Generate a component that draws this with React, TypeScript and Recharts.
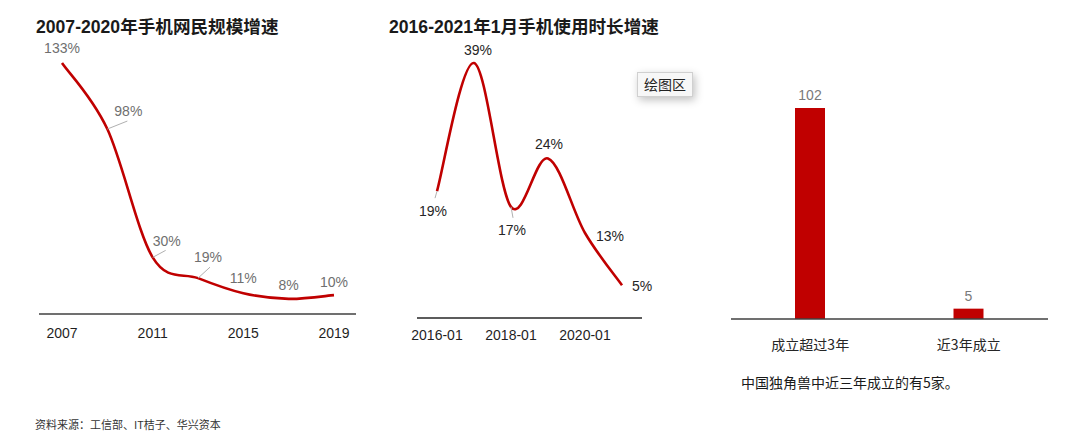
import React from 'react';
import { LineChart, Line, XAxis, YAxis, BarChart, Bar, LabelList } from 'recharts';

// ---- data ----
const netYears = ['2007', '2009', '2011', '2013', '2015', '2017', '2019'];
const netGrowth = [133, 98, 30, 19, 11, 8, 10];
const netTicks = ['2007', '2011', '2015', '2019'];

const timeMonths = ['2016-01', '2017-01', '2018-01', '2019-01', '2020-01', '2021-01'];
const timeGrowth = [19.4, 39, 17, 24.4, 13, 5];
const timeTicks = ['2016-01', '2018-01', '2020-01'];

const unicornCats = ['成立超过3年', '近3年成立'];
const unicornCounts = [102, 5];

// ---- label placement (offsets relative to each point) ----
type Placement = { dx: number; dy: number; lx?: number; ly?: number };
const netLabelPlacement: Placement[] = [
  { dx: 0, dy: -15 },
  { dx: 21, dy: -18, lx: 20, ly: -8 },
  { dx: 14, dy: -16, lx: 13, ly: -7 },
  { dx: 10, dy: -21, lx: 12, ly: -11 },
  { dx: 0, dy: -15 },
  { dx: 0, dy: -14 },
  { dx: 0, dy: -13 },
];
const timeLabelPlacement: Placement[] = [
  { dx: -4, dy: 20, lx: -2, ly: 7 },
  { dx: 4, dy: -13 },
  { dx: 1, dy: 23, lx: 2, ly: 11 },
  { dx: 1, dy: -14 },
  { dx: 25, dy: 3 },
  { dx: 20, dy: 1 },
];

const netData = netYears.map((y, i) => ({ year: y, v: netGrowth[i] }));
const timeData = timeMonths.map((m, i) => ({ month: m, v: timeGrowth[i] }));
const unicornData = unicornCats.map((c, i) => ({ cat: c, v: unicornCounts[i] }));

const RED = '#C00000';
const LATIN = "'Liberation Sans', Arial, 'Noto Sans CJK SC', sans-serif";
const CJK = "'Noto Sans CJK SC', 'Liberation Sans', sans-serif";

// Excel-like smooth curve (uniform Catmull-Rom as cubic Bezier)
const smoothCurve = (context: any) => {
  let pts: number[][] = [];
  return {
    areaStart() {},
    areaEnd() {},
    lineStart() {
      pts = [];
    },
    point(x: number, y: number) {
      pts.push([+x, +y]);
    },
    lineEnd() {
      if (!pts.length) return;
      context.moveTo(pts[0][0], pts[0][1]);
      const t = 1 / 6;
      for (let i = 0; i < pts.length - 1; i++) {
        const p0 = pts[i - 1] || pts[i];
        const p1 = pts[i];
        const p2 = pts[i + 1];
        const p3 = pts[i + 2] || p2;
        context.bezierCurveTo(
          p1[0] + (p2[0] - p0[0]) * t,
          p1[1] + (p2[1] - p0[1]) * t,
          p2[0] - (p3[0] - p1[0]) * t,
          p2[1] - (p3[1] - p1[1]) * t,
          p2[0],
          p2[1]
        );
      }
    },
  };
};

const makeLabelDot = (placement: Placement[], color: string) => (p: any) => {
  const { cx, cy, index, payload } = p;
  const pl = placement[index] || { dx: 0, dy: -14 };
  return (
    <g key={`lbl-${index}`}>
      {pl.lx !== undefined && (
        <line x1={cx} y1={cy} x2={cx + pl.lx} y2={cy + (pl.ly || 0)} stroke="#b0b0b0" strokeWidth={1} />
      )}
      <text
        x={cx + pl.dx}
        y={cy + pl.dy}
        textAnchor="middle"
        dominantBaseline="central"
        fontSize={14}
        fontFamily={LATIN}
        fill={color}
      >
        {`${Math.round(payload.v)}%`}
      </text>
    </g>
  );
};

const titleStyle: React.CSSProperties = {
  position: 'absolute',
  fontFamily: LATIN,
  fontWeight: 700,
  fontSize: 17.6,
  lineHeight: '18px',
  color: '#1a1a1a',
  whiteSpace: 'nowrap',
};

export default function App() {
  return (
    <div
      style={{
        position: 'absolute',
        left: 0,
        top: 0,
        width: 1080,
        height: 434,
        background: '#fff',
        overflow: 'hidden',
      }}
    >
      <div style={{ ...titleStyle, left: 36, top: 18 }}>2007-2020年手机网民规模增速</div>
      <div style={{ ...titleStyle, left: 389, top: 18 }}>2016-2021年1月手机使用时长增速</div>

      <div style={{ position: 'absolute', left: 0, top: 0 }}>
        <LineChart width={380} height={360} data={netData} margin={{ top: 63, right: 24, bottom: 16, left: 39 }}>
          <YAxis hide domain={[0, 133]} />
          <XAxis
            dataKey="year"
            ticks={netTicks}
            interval={0}
            padding={{ left: 23, right: 22 }}
            axisLine={{ stroke: '#404040', strokeWidth: 1.5 }}
            tickLine={false}
            tickSize={0}
            tickMargin={14}
            tick={{ fill: '#1f1f1f', fontSize: 14, fontFamily: LATIN }}
          />
          <Line
            dataKey="v"
            type={smoothCurve as any}
            stroke={RED}
            strokeWidth={2.6}
            dot={makeLabelDot(netLabelPlacement, '#6f6f6f')}
            activeDot={false}
            isAnimationActive={false}
          />
        </LineChart>
      </div>

      <div style={{ position: 'absolute', left: 380, top: 0 }}>
        <LineChart width={300} height={360} data={timeData} margin={{ top: 63, right: 38, bottom: 12, left: 37 }}>
          <YAxis hide domain={[0, 39]} />
          <XAxis
            dataKey="month"
            ticks={timeTicks}
            interval={0}
            padding={{ left: 20, right: 20 }}
            axisLine={{ stroke: '#262626', strokeWidth: 1.5 }}
            tickLine={false}
            tickSize={0}
            tickMargin={12}
            tick={{ fill: '#1f1f1f', fontSize: 14, fontFamily: LATIN }}
          />
          <Line
            dataKey="v"
            type={smoothCurve as any}
            stroke={RED}
            strokeWidth={2.6}
            dot={makeLabelDot(timeLabelPlacement, '#262626')}
            activeDot={false}
            isAnimationActive={false}
          />
        </LineChart>
      </div>

      <div
        style={{
          position: 'absolute',
          left: 637,
          top: 72,
          width: 56,
          height: 25,
          boxSizing: 'border-box',
          border: '1px solid #d0d0d0',
          background: '#f7f7f7',
          boxShadow: '2px 3px 8px rgba(0,0,0,0.25)',
          fontFamily: CJK,
          fontSize: 14,
          lineHeight: '23px',
          textAlign: 'center',
          color: '#222',
        }}
      >
        绘图区
      </div>

      <div style={{ position: 'absolute', left: 700, top: 0 }}>
        <BarChart width={380} height={360} data={unicornData} margin={{ top: 108, right: 32, bottom: 11, left: 31 }}>
          <YAxis hide domain={[0, 102]} />
          <XAxis
            dataKey="cat"
            axisLine={{ stroke: '#404040', strokeWidth: 1.5 }}
            tickLine={false}
            tickSize={0}
            tickMargin={21}
            tick={{ fill: '#262626', fontSize: 14, fontFamily: CJK }}
          />
          <Bar dataKey="v" fill={RED} barSize={30} isAnimationActive={false}>
            <LabelList dataKey="v" position="top" offset={8} fill="#7a7a7a" fontSize={14} fontFamily={LATIN} />
          </Bar>
        </BarChart>
      </div>

      <div
        style={{
          position: 'absolute',
          left: 741,
          top: 372,
          fontFamily: CJK,
          fontSize: 14,
          lineHeight: '20px',
          color: '#1a1a1a',
          whiteSpace: 'nowrap',
        }}
      >
        中国独角兽中近三年成立的有5家。
      </div>

      <div
        style={{
          position: 'absolute',
          left: 35,
          top: 417,
          fontFamily: CJK,
          fontSize: 11,
          lineHeight: '14px',
          color: '#333',
          whiteSpace: 'nowrap',
        }}
      >
        资料来源：工信部、IT桔子、华兴资本
      </div>
    </div>
  );
}
